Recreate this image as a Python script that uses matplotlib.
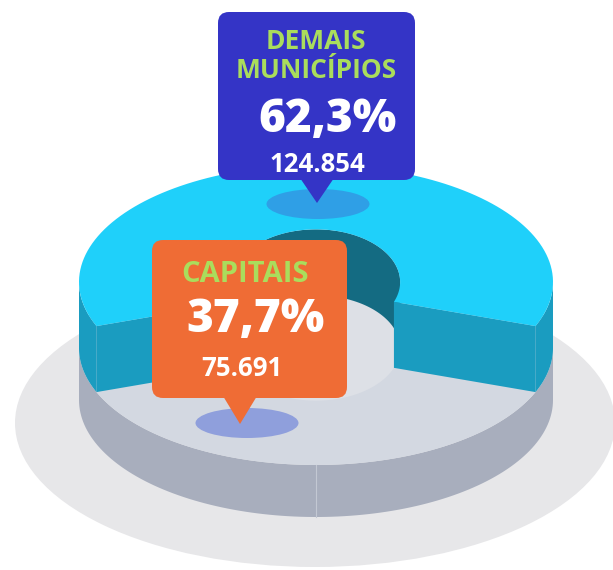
import numpy as np
import matplotlib.pyplot as plt
from matplotlib.patches import Polygon, Ellipse, FancyBboxPatch

# chart data
categories = ['DEMAIS\nMUNICÍPIOS', 'CAPITAIS']
shares = [62.3, 37.7]          # percent
counts = [124854, 75691]

# colours
top_colors = ['#1fd0fa', '#d3d8e1']
wall_colors = ['#1a9cc0', '#a8aebd']
inner_wall = '#146b82'
box_colors = ['#3434c6', '#ef6c35']
spot_colors = ['#2f9fe6', '#8f9fdc']
label_green = '#aadd5c'

# geometry of the fake 3d donut, in pixels (y goes down)
cx, rx, ry = 316, 237, 117
level_y = [400, 348, 282]      # bottom, grey top, cyan top
hole_kx, hole_ky = 0.355, 0.45


def ring(phi, level, kx=1.0, ky=1.0):
    t = np.radians(phi)
    return np.column_stack([cx + rx * kx * np.cos(t), level_y[level] + ry * ky * np.sin(t)])


def arc(a0, a1, n=120):
    return np.linspace(a0, a1, n)


def band(a0, a1, lev_top, lev_bot, kx=1.0, ky=1.0):
    # vertical wall between two levels along an elliptic arc
    top = ring(arc(a0, a1), lev_top, kx, ky)
    bot = ring(arc(a1, a0), lev_bot, kx, ky)
    return np.vstack([top, bot])


def cut_face(phi, lev_top, lev_bot):
    p = [ring([phi], lev_top)[0], ring([phi], lev_top, hole_kx, hole_ky)[0],
         ring([phi], lev_bot, hole_kx, hole_ky)[0], ring([phi], lev_bot)[0]]
    return np.array(p)


fig = plt.figure(figsize=(6.13, 5.70), dpi=100)
ax = fig.add_axes([0, 0, 1, 1])
ax.set_xlim(0, 613)
ax.set_ylim(570, 0)
ax.axis('off')

# shadow on the floor
ax.add_patch(Ellipse((315, 423), 600, 288, color='#e7e7e9', lw=0))

# grey base: front wall + top
gray_span = shares[1] / 100 * 360
g0, g1 = 90 - gray_span / 2, 90 + gray_span / 2
ax.add_patch(Polygon(band(0, 180, 1, 0), color=wall_colors[1], lw=0))
seam = np.vstack([ring([90], 1), ring([90], 0)])
ax.plot(seam[:, 0], seam[:, 1], color='#c3c8d3', lw=0.8)
ax.add_patch(Polygon(ring(arc(0, 360), 1), color=top_colors[1], lw=0))
ax.add_patch(Polygon(ring(arc(0, 360), 1, hole_kx, hole_ky), color='#dde0e6', lw=0))

# cyan slice sits on the base, from g1 round the back to g0
c0, c1 = g1, g0 + 360
ax.add_patch(Polygon(band(180, 360, 2, 1, hole_kx, hole_ky), color=inner_wall, lw=0))
ax.add_patch(Polygon(band(c0, 180, 2, 1), color=wall_colors[0], lw=0))
ax.add_patch(Polygon(band(360, c1, 2, 1), color=wall_colors[0], lw=0))
ax.add_patch(Polygon(cut_face(c0, 2, 1), color=wall_colors[0], lw=0))
ax.add_patch(Polygon(cut_face(c1, 2, 1), color=wall_colors[0], lw=0))
top = np.vstack([ring(arc(c0, c1), 2), ring(arc(c1, c0), 2, hole_kx, hole_ky)])
ax.add_patch(Polygon(top, color=top_colors[0], lw=0))


def pct(v):
    return f'{v:.1f}'.replace('.', ',') + '%'


def num(v):
    return f'{v:,}'.replace(',', '.')


# callout boxes: (left, top, width, height), pointer tip, spot centre
boxes = [((218, 12, 197, 168), (317, 203), (318, 204)),
         ((152, 240, 195, 158), (240, 424), (247, 423))]
name_pos = [(316, 56), (245, 274)]
name_size = [19, 21]
pct_pos = [(327, 120), (256, 320)]
num_pos = [(317, 164), (242, 369)]
font = 'Open Sans'

for i in range(2):
    (bx, by, bw, bh), tip, spot = boxes[i]
    ax.add_patch(Ellipse(spot, 103, 30, color=spot_colors[i], lw=0))
    ax.add_patch(FancyBboxPatch((bx, by), bw, bh, boxstyle='round,pad=0,rounding_size=11',
                                color=box_colors[i], lw=0))
    ax.add_patch(Polygon([(tip[0] - 17, by + bh - 2), (tip[0] + 17, by + bh - 2), tip],
                         color=box_colors[i], lw=0))
    ax.text(*name_pos[i], categories[i], color=label_green, fontsize=name_size[i],
            fontweight='bold', family=font, ha='center', va='center', linespacing=1.1)
    ax.text(*pct_pos[i], pct(shares[i]), color='white', fontsize=33, fontweight='heavy',
            family=font, ha='center', va='center')
    ax.text(*num_pos[i], num(counts[i]), color='white', fontsize=18.5, fontweight='bold',
            family=font, ha='center', va='center')

fig.savefig('out.png', dpi=100, facecolor='white')
